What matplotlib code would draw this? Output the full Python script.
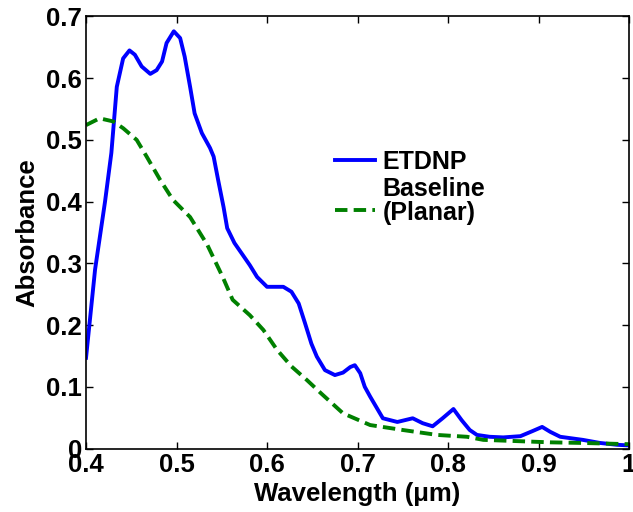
import matplotlib
matplotlib.use("Agg")
import matplotlib.pyplot as plt
import numpy as np

plt.rcParams['font.family'] = ['Liberation Sans', 'DejaVu Sans']
plt.rcParams['font.weight'] = 'bold'

# ETDNP absorbance spectrum
etdnp_wl = [0.400, 0.410, 0.421, 0.428, 0.434, 0.441, 0.448, 0.454, 0.4615, 0.471,
            0.478, 0.484, 0.489, 0.497, 0.504, 0.509, 0.515, 0.520, 0.528, 0.537,
            0.541, 0.546, 0.552, 0.556, 0.564, 0.573, 0.581, 0.589, 0.600, 0.618,
            0.627, 0.635, 0.642, 0.649, 0.655, 0.664, 0.675, 0.684, 0.692, 0.697,
            0.703, 0.708, 0.714, 0.728, 0.744, 0.761, 0.772, 0.783, 0.794, 0.806,
            0.815, 0.824, 0.832, 0.846, 0.861, 0.880, 0.893, 0.904, 0.913, 0.924,
            0.949, 0.968, 0.987, 1.000]
etdnp_abs = [0.147, 0.290, 0.400, 0.479, 0.586, 0.632, 0.645, 0.638, 0.619, 0.607,
             0.613, 0.627, 0.657, 0.676, 0.665, 0.635, 0.586, 0.543, 0.511, 0.487,
             0.473, 0.435, 0.391, 0.357, 0.333, 0.314, 0.297, 0.278, 0.262, 0.262,
             0.254, 0.235, 0.203, 0.170, 0.149, 0.127, 0.119, 0.123, 0.132, 0.135,
             0.122, 0.100, 0.084, 0.049, 0.043, 0.049, 0.041, 0.036, 0.049, 0.064,
             0.046, 0.030, 0.022, 0.019, 0.018, 0.020, 0.028, 0.035, 0.027, 0.019,
             0.014, 0.009, 0.006, 0.005]

# Planar baseline absorbance spectrum
base_wl = [0.400, 0.415, 0.430, 0.441, 0.456, 0.467, 0.482, 0.496, 0.515, 0.534,
           0.551, 0.562, 0.581, 0.596, 0.611, 0.627, 0.644, 0.660, 0.684, 0.714,
           0.750, 0.788, 0.821, 0.839, 0.876, 0.913, 0.949, 1.000]
base_abs = [0.524, 0.535, 0.530, 0.519, 0.500, 0.473, 0.435, 0.403, 0.375, 0.330,
            0.278, 0.241, 0.216, 0.192, 0.160, 0.133, 0.111, 0.089, 0.057, 0.038,
            0.030, 0.022, 0.019, 0.014, 0.012, 0.010, 0.009, 0.007]

x_ticks = [0.4, 0.5, 0.6, 0.7, 0.8, 0.9, 1.0]
x_tick_labels = ['0.4', '0.5', '0.6', '0.7', '0.8', '0.9', '1']
y_ticks = [0, 0.1, 0.2, 0.3, 0.4, 0.5, 0.6, 0.7]
y_tick_labels = ['0', '0.1', '0.2', '0.3', '0.4', '0.5', '0.6', '0.7']

fig = plt.figure(figsize=(6.33, 5.12), dpi=100)
ax = fig.add_axes([0.1359, 0.124, 0.8578, 0.8438])

ax.plot(etdnp_wl, etdnp_abs, color=(0, 0, 1), lw=2.8, label='ETDNP',
        solid_joinstyle='round')
ax.plot(base_wl, base_abs, color=(0, 0.5, 0), lw=2.8, ls=(0, (3.2, 1.6)),
        label='Baseline\n(Planar)')

ax.set_xlim(0.4, 1.0)
ax.set_ylim(0, 0.7)
ax.set_xticks(x_ticks)
ax.set_xticklabels(x_tick_labels)
ax.set_yticks(y_ticks)
ax.set_yticklabels(y_tick_labels)
ax.tick_params(direction='in', length=5, width=1, top=True, right=True,
               labelsize=18.5, pad=3)
for lbl in ax.get_xticklabels() + ax.get_yticklabels():
    lbl.set_fontweight('bold')
for sp in ax.spines.values():
    sp.set_linewidth(1.2)

ax.set_xlabel('Wavelength (\u03bcm)', fontsize=18.5, fontweight='bold', labelpad=4)
ax.set_ylabel('Absorbance', fontsize=18.5, fontweight='bold', labelpad=5)

leg = ax.legend(loc='upper left', bbox_to_anchor=(0.440, 0.714), frameon=False,
                prop={'size': 18, 'weight': 'bold'}, handlelength=1.6,
                handletextpad=0.3, labelspacing=0.1, borderaxespad=0)
for t in leg.get_texts():
    t.set_linespacing(1.0)
# put the dashed sample beside the second line of its two-line label
h = leg.legend_handles[1]
h.set_ydata(np.asarray(h.get_ydata()) - 6.5)

fig.savefig('out.png', dpi=100)
